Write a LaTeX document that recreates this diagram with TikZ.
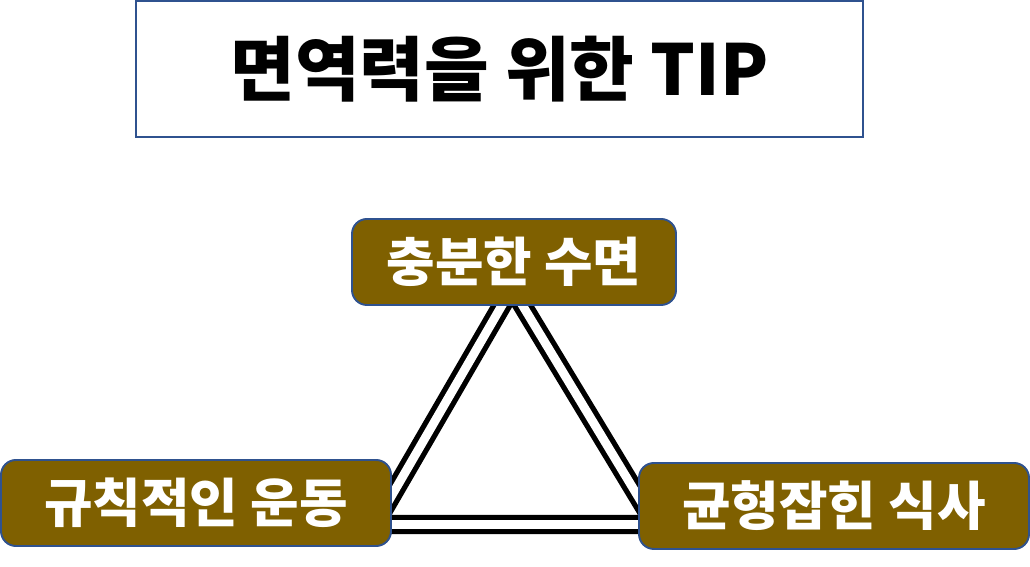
\documentclass[tikz,border=0pt]{standalone}
\usepackage{fontspec}
\setmainfont{Noto Sans CJK KR}
\usepackage{xcolor}
\usetikzlibrary{positioning,calc}
\definecolor{tipbrown}{HTML}{7F6000}
\definecolor{tipblue}{HTML}{2F528F}

\begin{document}
\begin{tikzpicture}[
    tipbox/.style={draw=tipblue, line width=1.1pt, fill=tipbrown, rounded corners=8.5pt,
        minimum width=7.8cm, minimum height=1.72cm, inner sep=0pt,
        text=white, font=\fontsize{30}{34}\selectfont\bfseries},
    tipline/.style={line width=3pt, double=white, double distance=5pt, line join=miter}
]
    \useasboundingbox (0,0) rectangle (20.6,11.34);

    % Title
    \node[draw=tipblue, line width=0.9pt, minimum width=14.54cm, minimum height=2.72cm,
        font=\fontsize{40}{46}\selectfont\bfseries] (title) at (9.99,9.96) {면역력을 위한 TIP};

    % Triangle behind the boxes
    \coordinate (apex) at (10.24,5.58);
    \coordinate (leftc) at (7.5,0.85);
    \coordinate (rightc) at (13.1,0.85);
    \draw[tipline] (apex) -- (leftc) -- (rightc) -- cycle;

    % Boxes
    \node[tipbox, minimum width=6.48cm] (sleep) at (10.28,6.10) {충분한 수면};
    \foreach \name/\pos/\txt in {exercise/{3.92,1.28}/규칙적인 운동, diet/{16.68,1.22}/균형잡힌 식사} {
        \node[tipbox] (\name) at (\pos) {\txt};
    }

\end{tikzpicture}
\end{document}
